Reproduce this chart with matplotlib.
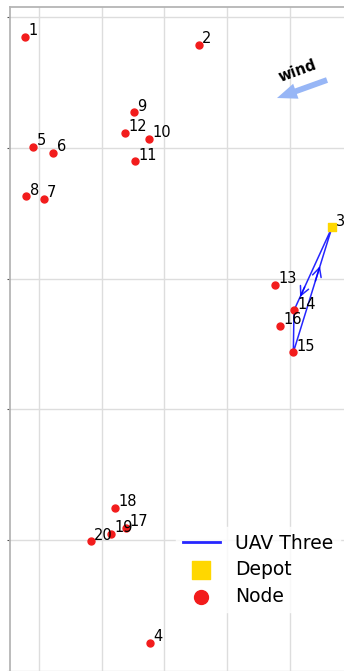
import numpy as np
import matplotlib.pyplot as plt

# node positions (id -> x, y)
node_ids = [1, 2, 4, 5, 6, 7, 8, 9, 10, 11, 12, 13, 14, 15, 16, 17, 18, 19, 20]
node_x = [-2.23, 25.45, 17.64, -0.91, 2.28, 0.75, -2.02, 15.09, 17.48, 15.35,
          13.71, 37.61, 40.64, 40.53, 38.45, 13.86, 12.06, 11.47, 8.24]
node_y = [76.94, 75.76, -15.76, 60.11, 59.24, 52.16, 52.57, 65.42, 61.34, 57.93,
          62.30, 39.05, 35.14, 28.71, 32.73, 1.88, 4.94, 0.96, -0.20]

depot_id = 3
depot_x = 46.69
depot_y = 47.83

# UAV Three tour
route = [3, 14, 15, 3]

# wind direction
wind_tail = (45.90, 70.36)
wind_head = (37.93, 67.61)

pos = {i: (x, y) for i, x, y in zip(node_ids, node_x, node_y)}
pos[depot_id] = (depot_x, depot_y)

fig = plt.figure(figsize=(3.44, 6.71), dpi=100)
ax = fig.add_axes([10/344, -29/671, 360/344, 693/671])

ax.set_xlim(-4.62, 52.75)
ax.set_ylim(-24.47, 81.53)
ax.set_xticks(np.arange(0, 60, 10))
ax.set_yticks(np.arange(-20, 100, 20))
ax.set_xticklabels([])
ax.set_yticklabels([])
ax.tick_params(axis='x', length=0)
ax.tick_params(axis='y', length=2.5, color='#555555')
ax.grid(True, color='#dddddd', lw=1)
ax.set_axisbelow(True)
for s in ax.spines.values():
    s.set_color('#b5b5b5')
    s.set_linewidth(1.3)

# route
rx = [pos[i][0] for i in route]
ry = [pos[i][1] for i in route]
ax.plot(rx, ry, color='blue', lw=1.1, alpha=0.85, label='UAV Three', zorder=2)
for (a, b), f in zip(zip(route[:-1], route[1:]), [0.84, None, 0.69]):
    if f is None:
        continue
    x0, y0 = pos[a]
    x1, y1 = pos[b]
    tip = (x0 + f*(x1 - x0), y0 + f*(y1 - y0))
    back = (x0 + (f - 0.12)*(x1 - x0), y0 + (f - 0.12)*(y1 - y0))
    ax.annotate('', xy=tip, xytext=back,
                arrowprops=dict(arrowstyle='->', color='blue', lw=1.1,
                                alpha=0.85, mutation_scale=16,
                                shrinkA=0, shrinkB=0))

ax.scatter([depot_x], [depot_y], marker='s', s=40, color='#ffd700',
           label='Depot', zorder=3)
ax.scatter(node_x, node_y, marker='o', s=25, color='#f21c1c',
           label='Node', zorder=3)

for i, (x, y) in pos.items():
    ax.annotate(str(i), (x, y), xytext=(2.5, -1), textcoords='offset points',
                fontsize=10.5, ha='left', va='bottom', zorder=4)

# wind
ax.annotate('', xy=wind_head, xytext=wind_tail,
            arrowprops=dict(arrowstyle='simple,head_length=1.2,head_width=0.95,tail_width=0.35',
                            color='#97b6f6', mutation_scale=12, lw=0,
                            shrinkA=0, shrinkB=0))
ax.text(41.27, 71.74, 'wind', fontsize=10.5, fontweight='bold', rotation=20,
        ha='center', va='center')

leg = ax.legend(loc='upper left', bbox_to_anchor=(176/344, 1 - 527/671),
                bbox_transform=fig.transFigure, borderaxespad=0, fontsize=13.5,
                markerscale=2, fancybox=False, edgecolor='white',
                labelspacing=0.4, borderpad=0.35)
leg.get_lines()[0].set_linewidth(2)

fig.savefig('out.png', dpi=100)
